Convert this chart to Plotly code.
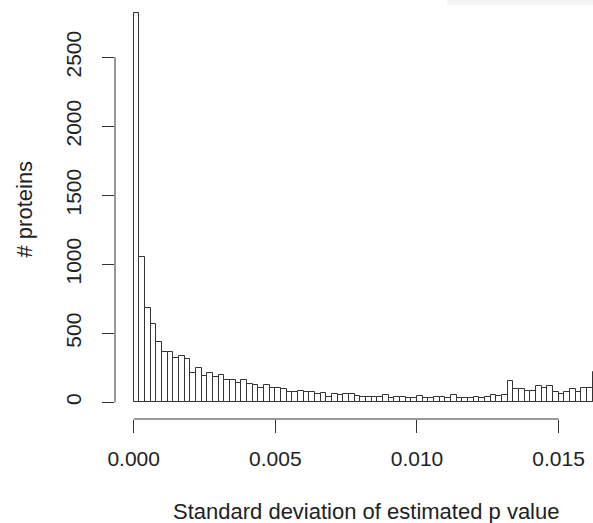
import plotly.graph_objects as go

# Histogram data (bin width 0.0002, first bin starts at 0)
bin_start = 0.0
bin_width = 0.0002
counts = [2823, 1055, 686, 565, 439, 367, 367, 323, 333, 314,
          210, 251, 191, 210, 183, 200, 162, 162, 140, 165,
          133, 123, 104, 123, 106, 104, 94, 77, 77, 84,
          77, 77, 60, 70, 41, 60, 50, 60, 60, 48,
          38, 38, 38, 38, 51, 31, 41, 41, 31, 31,
          43, 31, 31, 41, 41, 31, 51, 31, 31, 31,
          41, 31, 41, 51, 46, 51, 157, 94, 94, 84,
          84, 120, 104, 120, 75, 60, 75, 94, 75, 104,
          104, 222]

x_tickvals = [0.0, 0.005, 0.010, 0.015]
x_ticktext = ["0.000", "0.005", "0.010", "0.015"]
y_tickvals = [0, 500, 1000, 1500, 2000, 2500]
y_ticktext = ["0", "500", "1000", "1500", "2000", "2500"]

x_title = "Standard deviation of estimated p value"
y_title = "# proteins"

centers = [bin_start + bin_width * (i + 0.5) for i in range(len(counts))]

FONT = "Liberation Sans, Arial, sans-serif"
INK = "#222222"

fig = go.Figure(go.Bar(
    x=centers, y=counts, width=bin_width,
    marker=dict(color="white", line=dict(color="#333333", width=1)),
    hoverinfo="skip",
))

fig.update_layout(
    width=593, height=523,
    margin=dict(l=115, r=0, t=0, b=104),
    paper_bgcolor="white", plot_bgcolor="white",
    showlegend=False,
    bargap=0,
    font=dict(family=FONT, size=21, color=INK),
    xaxis=dict(
        range=[-0.00066, 0.016213],
        tickmode="array", tickvals=x_tickvals, ticktext=x_ticktext,
        ticks="outside", ticklen=13, tickwidth=1, tickcolor="#333333",
        showgrid=False, zeroline=False, showline=False,
        ticklabelstandoff=8,
        tickfont=dict(family=FONT, size=21, color=INK),
    ),
    yaxis=dict(
        range=[-121, 2915],
        tickmode="array", tickvals=y_tickvals, ticktext=y_ticktext,
        ticks="outside", ticklen=12, tickwidth=1, tickcolor="#333333",
        showgrid=False, zeroline=False, showline=False,
        tickangle=-90,
        ticklabelstandoff=13,
        tickfont=dict(family=FONT, size=21, color=INK),
    ),
    shapes=[
        dict(type="line", xref="x", yref="paper", x0=x_tickvals[0], x1=x_tickvals[-1],
             y0=0, y1=0, line=dict(color="#333333", width=1)),
        dict(type="line", xref="paper", yref="y", x0=0, x1=0,
             y0=y_tickvals[0], y1=y_tickvals[-1], line=dict(color="#333333", width=1)),
        dict(type="rect", xref="paper", yref="paper", x0=0.695, x1=1.0,
             y0=0.988, y1=1.0, fillcolor="#f6f5f3", line=dict(width=0), layer="above"),
    ],
    annotations=[
        dict(text=x_title, xref="paper", yref="paper", x=0.525, y=0,
             yshift=-92, xanchor="center", yanchor="middle", showarrow=False,
             font=dict(family=FONT, size=22, color=INK)),
        dict(text=y_title, xref="paper", yref="paper", x=0, y=0.5,
             xshift=-91, xanchor="center", yanchor="middle", showarrow=False,
             textangle=-90, font=dict(family=FONT, size=22, color=INK)),
    ],
)

fig.write_html("out.html")
